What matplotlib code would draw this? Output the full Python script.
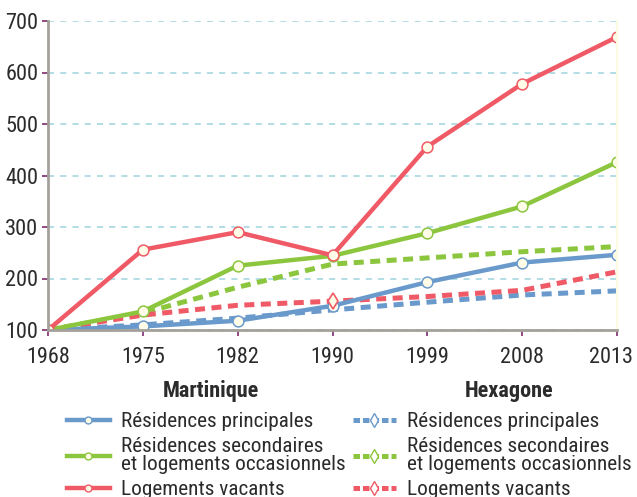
import matplotlib.pyplot as plt
from matplotlib.lines import Line2D
from matplotlib.transforms import ScaledTranslation

plt.rcParams["font.family"] = ["Roboto Condensed", "Liberation Sans", "DejaVu Sans"]

years = ["1968", "1975", "1982", "1990", "1999", "2008", "2013"]

# base 100 en 1968
mq_principales = [100, 107, 118, 147, 193, 231, 246]
mq_secondaires = [100, 136, 225, 244, 288, 340, 426]
mq_vacants = [100, 256, 290, 245, 456, 578, 669]

hx_principales = [100, 110, 123, 139, 154, 168, 176]
hx_secondaires = [100, 133, 183, 228, 240, 252, 262]
hx_vacants = [100, 129, 148, 156, 165, 177, 213]

labels = ["Résidences principales",
          "Résidences secondaires\net logements occasionnels",
          "Logements vacants"]

BLUE = "#6a9acb"
GREEN = "#8cc63e"
RED = "#ef5a66"
FILL = "#fffde8"
TEXT = "#2b2b2b"

fig = plt.figure(figsize=(6.37, 4.97), dpi=100)
ax = fig.add_axes([48 / 637, 1 - 330 / 497, (617 - 48) / 637, (330 - 21) / 497])

x = list(range(len(years)))
dash = dict(linestyle=(0, (2.0, 1.3)), linewidth=3.6, solid_capstyle="butt")

ax.plot(x, hx_principales, color=BLUE, **dash)
ax.plot(x, hx_secondaires, color=GREEN, **dash)
ax.plot(x, hx_vacants, color=RED, **dash)

solid = dict(linewidth=3.2, marker="o", markersize=7.8, markerfacecolor=FILL,
             markeredgewidth=1.1)
ax.plot(x, mq_principales, color=BLUE, markeredgecolor=BLUE, **solid)
ax.plot(x, mq_secondaires, color=GREEN, markeredgecolor=GREEN, **solid)
ax.plot(x, mq_vacants, color=RED, markeredgecolor=RED, **solid)

# repère en losange sur la série des logements vacants (1990)
ax.plot(x, hx_vacants, linestyle="none", marker="d", markevery=[3],
        markersize=8.5, markerfacecolor=FILL, markeredgecolor=RED,
        markeredgewidth=1.2, zorder=3)

ax.set_xlim(0, len(years) - 1)
ax.set_ylim(100, 700)
ax.set_xticks(x)
ax.set_xticklabels(years)
ax.set_yticks(range(100, 701, 100))
ax.tick_params(labelsize=16, colors="#7b2c6b", labelcolor=TEXT,
               length=4, width=1.2)
ax.tick_params(axis="x", pad=8)
ax.tick_params(axis="y", pad=3)
# dernier millésime légèrement décalé pour rester dans le cadre
last = ax.get_xticklabels()[-1]
last.set_transform(last.get_transform() + ScaledTranslation(-6 / 100, 0, fig.dpi_scale_trans))

ax.yaxis.grid(True, color="#9fd3de", linestyle=(0, (4, 4)), linewidth=1.1)
ax.set_axisbelow(True)

ax.spines["top"].set_visible(False)
ax.spines["right"].set_color("#fbfbe4")
ax.spines["right"].set_linewidth(1.5)
for side in ["left", "bottom"]:
    ax.spines[side].set_color("#a3a199")
    ax.spines[side].set_linewidth(2)

# légende : une colonne par territoire
fig.text(211 / 637, 1 - 391 / 497, "Martinique", ha="center", va="center",
         fontsize=16, fontweight="bold", color=TEXT)
fig.text(509 / 637, 1 - 391 / 497, "Hexagone", ha="center", va="center",
         fontsize=16, fontweight="bold", color=TEXT)


def solid_handle(c):
    return Line2D([], [], color=c, linewidth=3.2, marker="o", markersize=5,
                  markerfacecolor=FILL, markeredgecolor=c, markeredgewidth=1)


def dash_handle(c):
    return Line2D([], [], color=c, linewidth=3.6, linestyle=(0, (1.3, 0.6)),
                  marker="d", markersize=7, markerfacecolor="white",
                  markeredgecolor=c, markeredgewidth=1)


legend_opts = dict(loc="upper left", frameon=False, fontsize=15.3,
                   handlelength=2.0, handletextpad=0.55, labelspacing=0.3,
                   borderpad=0, borderaxespad=0, labelcolor=TEXT)
leg1 = fig.legend([solid_handle(c) for c in (BLUE, GREEN, RED)], labels,
                  bbox_to_anchor=(67 / 637, 1 - 412 / 497), **legend_opts)
leg2 = fig.legend([dash_handle(c) for c in (BLUE, GREEN, RED)], labels,
                  bbox_to_anchor=(353 / 637, 1 - 412 / 497), **legend_opts)
for leg in (leg1, leg2):
    for t in leg.get_texts():
        t.set_linespacing(0.9)

fig.savefig("out.png", dpi=100)
